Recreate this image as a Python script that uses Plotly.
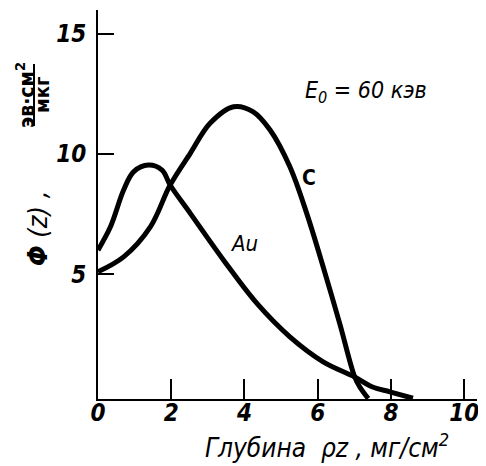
import plotly.graph_objects as go

# Data
au_x = [0.0, 0.34, 0.70, 0.97, 1.38, 1.75, 1.97, 2.52, 3.43, 4.34, 5.24, 6.15, 7.01, 7.5, 7.97, 8.6]
au_y = [6.0, 6.97, 8.5, 9.26, 9.54, 9.33, 8.71, 7.53, 5.58, 3.78, 2.39, 1.35, 0.72, 0.3, 0.1, -0.17]
c_x = [0.0, 0.70, 1.43, 1.97, 2.52, 3.06, 3.70, 4.24, 4.70, 5.24, 5.70, 6.15, 6.60, 7.01, 7.15, 7.38]
c_y = [5.1, 5.72, 6.97, 8.71, 10.03, 11.28, 11.97, 11.76, 11.0, 9.47, 7.53, 5.3, 2.95, 0.72, 0.3, -0.18]
x_ticks = [0, 2, 4, 6, 8, 10]
y_ticks = [5, 10, 15]
X_RANGE = [0, 10.35]
Y_RANGE = [-0.2, 16]

OFF = 8  # page body margin
W, H = 486 - OFF, 466 - OFF
# plot area in page pixels: left 98, right 477, top 10, bottom 399
L = 98 - OFF
T = 10 - OFF
R = W - (477 - OFF)
B = H - (399 - OFF)
pw, ph = W - L - R, H - T - B


def px(x):
    return (x - OFF - L) / pw


def py(y):
    return (H - B - (y - OFF)) / ph


FONT = "Liberation Sans Narrow, DejaVu Sans Condensed, Liberation Sans"

fig = go.Figure()
for xs, ys in ((au_x, au_y), (c_x, c_y)):
    fig.add_trace(go.Scatter(x=xs, y=ys, mode="lines",
                             line=dict(color="black", width=5, shape="spline", smoothing=1.0),
                             showlegend=False, cliponaxis=False))
# carrier for the label-only x axis
fig.add_trace(go.Scatter(x=[None], y=[None], xaxis="x2", yaxis="y", showlegend=False, hoverinfo="skip"))

fig.update_layout(
    width=W, height=H,
    margin=dict(l=L, r=R, t=T, b=B),
    paper_bgcolor="white", plot_bgcolor="white",
    showlegend=False,
)
tf = dict(family=FONT, size=24, color="black", style="italic", weight="bold")
fig.update_layout(
    xaxis=dict(
        range=X_RANGE, tickvals=x_ticks, showticklabels=False,
        showgrid=False, zeroline=False, showline=True, linecolor="black", linewidth=2,
        ticks="inside", ticklen=20, tickwidth=2, tickcolor="black",
    ),
    xaxis2=dict(
        range=X_RANGE, overlaying="x", anchor="free", position=py(396), side="bottom",
        tickvals=x_ticks, ticktext=[str(v) for v in x_ticks],
        showgrid=False, zeroline=False, showline=False, ticks="",
        tickfont=tf, ticklabelstandoff=0,
    ),
    yaxis=dict(
        range=Y_RANGE, tickvals=y_ticks, ticktext=[str(v) for v in y_ticks],
        showgrid=False, zeroline=False, showline=True, linecolor="black", linewidth=2,
        ticks="inside", ticklen=16, tickwidth=2, tickcolor="black",
        tickfont=tf, ticklabelstandoff=5,
    ),
)

ann = []
ann.append(dict(x=px(327), y=py(446), xref="paper", yref="paper", text="Глубина  ρz , мг/см<sup>2</sup>",
                showarrow=False, font=dict(family=FONT, size=26, color="black", style="italic"), xanchor="center", yanchor="middle"))
ann.append(dict(x=px(366), y=py(92), xref="paper", yref="paper", text="E<sub>0</sub> = 60 кэв",
                showarrow=False, font=dict(family=FONT, size=23, color="black", style="italic"), xanchor="center", yanchor="middle"))
ann.append(dict(x=px(309), y=py(178), xref="paper", yref="paper", text="C",
                showarrow=False, font=dict(family=FONT, size=21, color="black", weight="bold"), xanchor="center", yanchor="middle"))
ann.append(dict(x=px(244), y=py(244), xref="paper", yref="paper", text="Au",
                showarrow=False, font=dict(family=FONT, size=22, color="black", style="italic"), xanchor="center", yanchor="middle"))
ann.append(dict(x=px(37), y=py(228), xref="paper", yref="paper", text="<b>Φ</b> (z) ,",
                showarrow=False, textangle=-90, font=dict(family=FONT, size=27, color="black", style="italic"), xanchor="center", yanchor="middle"))
ann.append(dict(x=px(25), y=py(95), xref="paper", yref="paper", text="эв·см<sup>2</sup>",
                showarrow=False, textangle=-90, font=dict(family=FONT, size=21, color="black", weight="bold"), xanchor="center", yanchor="middle"))
ann.append(dict(x=px(42), y=py(95), xref="paper", yref="paper", text="мкг",
                showarrow=False, textangle=-90, font=dict(family=FONT, size=20, color="black", weight="bold"), xanchor="center", yanchor="middle"))
fig.update_layout(annotations=ann)
fig.add_shape(type="line", xref="paper", yref="paper", x0=px(34), x1=px(34), y0=py(64), y1=py(126),
              line=dict(color="black", width=2))

fig.write_html("out.html")
